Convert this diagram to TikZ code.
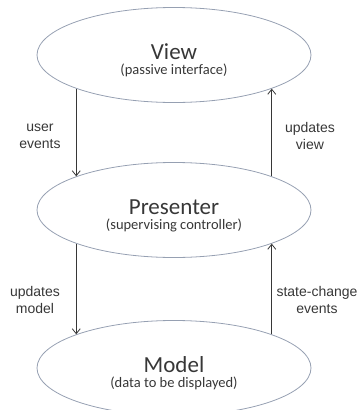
\documentclass[tikz,border=0pt]{standalone}
\usepackage{fontspec}
\setmainfont{Carlito}
\newfontfamily\labelfont{Liberation Sans}
\usepackage{tikz}
\usetikzlibrary{shapes.geometric,arrows.meta}

\definecolor{rimgray}{RGB}{150,160,178}
\definecolor{inkgray}{RGB}{55,55,55}

\newcommand{\boxtitle}[2]{\rule{0pt}{27pt}{\fontsize{23}{25}\selectfont #1}\\[3pt]{\fontsize{14.5}{16}\selectfont #2}}

\begin{document}
\begin{tikzpicture}[x=1pt, y=-1pt,
    part/.style={ellipse, draw=rimgray, line width=0.8pt, minimum width=274pt, minimum height=95pt,
        inner sep=0pt, align=center, text=inkgray},
    flow/.style={draw=inkgray, line width=0.8pt, -{Straight Barb[length=5pt,width=8pt]}},
    tag/.style={font=\labelfont\fontsize{14}{17}\selectfont, align=center, text=inkgray}]
        \useasboundingbox (0,0) rectangle (359,410);
        \node[part] (View) at (174,55) {\boxtitle{View}{(passive interface)}};
        \node[part] (Presenter) at (174,210) {\boxtitle{Presenter}{(supervising controller)}};
        \node[part] (Model) at (174,368) {\boxtitle{Model}{(data to be displayed)}};

        \draw[flow] (View.199) -- (Presenter.161);
        \draw[flow] (Presenter.19) -- (View.341);
        \draw[flow] (Presenter.199) -- (Model.161);
        \draw[flow] (Model.19) -- (Presenter.341);

        \node[tag] (userEvents) at (40,136) {user\\events};
        \node[tag] (updView) at (310,136) {updates\\view};
        \node[tag] (updModel) at (35,300) {updates\\model};
        \node[tag] (stateChange) at (317,300) {state-change\\events};
    \end{tikzpicture}
\end{document}
